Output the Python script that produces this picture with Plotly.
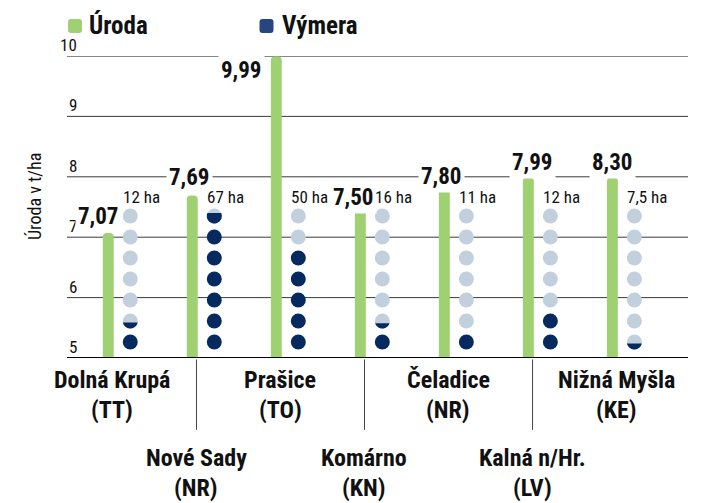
import math
import plotly.graph_objects as go

# ---------------- data ----------------
sites = ["Dolná Krupá", "Nové Sady", "Prašice", "Komárno", "Čeladice", "Kalná n/Hr.", "Nižná Myšla"]
districts = ["(TT)", "(NR)", "(TO)", "(KN)", "(NR)", "(LV)", "(KE)"]
uroda_labels = ["7,07", "7,69", "9,99", "7,50", "7,80", "7,99", "8,30"]
bar_heights = [7.07, 7.69, 9.99, 7.50, 7.80, 7.99, 7.99]   # bar tops as drawn in the picture
vymera_labels = ["12 ha", "67 ha", "50 ha", "16 ha", "11 ha", "12 ha", "7,5 ha"]
dots_filled = [1.4, 6.7, 5.0, 1.35, 1.0, 2.0, 0.4]
dots_total = 7
y_ticks = [5, 6, 7, 8, 9, 10]
y_tick_labels = ["5", "6", "7", "8", "9", "10"]

# ---------------- style ----------------
FONT = "Liberation Sans Narrow, Roboto Condensed, DejaVu Sans Condensed, Arial Narrow, sans-serif"
GREEN = "#9fd072"
NAVY = "#062a60"
NAVY_LEG = "#27467f"
LIGHT = "#c2d0dd"
DOT_OFF = 0.262
DOT_R = 7.5
PW, PH = 621, 302          # plot area size (px)
PL, PB = 67, 358           # plot left / bottom in the reference picture (px)

# per-label nudges (px) for the value labels
val_dx = [-10, -3, -35, -7, -3, 4, 0]
val_dy = [16, 18, -14, 10, 12, 15, 15]

n = len(sites)
xs = list(range(n))

fig = go.Figure()
fig.add_trace(go.Bar(
    x=xs, y=bar_heights, width=0.13,
    marker=dict(color=GREEN, cornerradius=4, line=dict(width=0)),
    hoverinfo="skip", showlegend=False))

dark_x, dark_y, light_x, light_y = [], [], [], []
shapes = []
for i, f in enumerate(dots_filled):
    full = int(math.floor(f + 1e-9))
    frac = f - full
    for r in range(dots_total):
        if r < full:
            dark_x.append(i + DOT_OFF); dark_y.append(r)
        else:
            light_x.append(i + DOT_OFF); light_y.append(r)
            if r == full and frac > 0.01:
                yc = -DOT_R + 2 * DOT_R * frac
                a = math.asin(max(-1, min(1, yc / DOT_R)))
                t0, t1 = math.pi - a, 2 * math.pi + a
                pts = []
                for k in range(29):
                    t = t0 + (t1 - t0) * k / 28
                    pts.append((DOT_R * math.cos(t), DOT_R * math.sin(t)))
                path = "M " + " L ".join(f"{px:.2f},{py:.2f}" for px, py in pts) + " Z"
                shapes.append(dict(type="path", path=path, xref="x", yref="y2",
                                   xsizemode="pixel", ysizemode="pixel",
                                   xanchor=i + DOT_OFF, yanchor=r,
                                   fillcolor=NAVY, line=dict(width=0), layer="above"))

fig.add_trace(go.Scatter(x=light_x, y=light_y, yaxis="y2", mode="markers",
                         marker=dict(size=15, color=LIGHT, line=dict(width=0)),
                         hoverinfo="skip", showlegend=False))
fig.add_trace(go.Scatter(x=dark_x, y=dark_y, yaxis="y2", mode="markers",
                         marker=dict(size=15, color=NAVY, line=dict(width=0)),
                         hoverinfo="skip", showlegend=False))

# grid lines
for v in y_ticks:
    if v == 5:
        continue
    shapes.append(dict(type="line", xref="paper", yref="y", x0=0, x1=1, y0=v, y1=v,
                       line=dict(color="#111" if v == 10 else "#3a3a3a", width=1.2 if v == 10 else 1),
                       layer="below"))
shapes.append(dict(type="line", xref="paper", yref="y", x0=0, x1=1, y0=5, y1=5,
                   line=dict(color="#000", width=2), layer="above"))

# separators under the lower label row
for i in range(1, n, 2):
    shapes.append(dict(type="line", xref="x", yref="paper", x0=i + 0.05, x1=i + 0.05,
                       y0=-0.005, y1=-0.238, line=dict(color="#444", width=1)))

# legend squares
def rrect(w, h, rad):
    x0, y0, x1, y1 = -w / 2, -h / 2, w / 2, h / 2
    return (f"M {x0+rad},{y0} L {x1-rad},{y0} Q {x1},{y0} {x1},{y0+rad} L {x1},{y1-rad} "
            f"Q {x1},{y1} {x1-rad},{y1} L {x0+rad},{y1} Q {x0},{y1} {x0},{y1-rad} "
            f"L {x0},{y0+rad} Q {x0},{y0} {x0+rad},{y0} Z")

for px_c, col in [(75, GREEN), (266.5, NAVY_LEG)]:
    shapes.append(dict(type="path", path=rrect(14, 14, 3), xref="paper", yref="paper",
                       xsizemode="pixel", ysizemode="pixel",
                       xanchor=(px_c - PL) / PW, yanchor=(PB - 26) / PH,
                       fillcolor=col, line=dict(width=0)))

ann = []
ann.append(dict(text="<b>Úroda</b>", xref="paper", yref="paper", x=(87 - PL) / PW, y=(PB - 25) / PH,
                xanchor="left", yanchor="middle", showarrow=False,
                font=dict(family=FONT, size=25, color="#111")))
ann.append(dict(text="<b>Výmera</b>", xref="paper", yref="paper", x=(280 - PL) / PW, y=(PB - 25) / PH,
                xanchor="left", yanchor="middle", showarrow=False,
                font=dict(family=FONT, size=25, color="#111")))

# y tick labels
for v, t in zip(y_ticks, y_tick_labels):
    ann.append(dict(text=t, xref="paper", yref="y", x=(79 - PL) / PW, y=v,
                    xanchor="right", yanchor="bottom", yshift=-1, showarrow=False,
                    font=dict(family=FONT, size=17, color="#111")))

# y title
ann.append(dict(text="Úroda v t/ha", xref="paper", yref="paper", x=(34 - PL) / PW, y=(PB - 197) / PH,
                xanchor="center", yanchor="middle", textangle=-90, showarrow=False,
                font=dict(family=FONT, size=18, color="#111")))

# value labels
for i in range(n):
    ann.append(dict(text=f"<b>{uroda_labels[i]}</b>", xref="x", yref="y", x=i, y=bar_heights[i],
                    xanchor="center", yanchor="middle", xshift=val_dx[i], yshift=val_dy[i],
                    showarrow=False, bgcolor="white", borderpad=2,
                    font=dict(family=FONT, size=23, color="#111")))

# area labels
for i in range(n):
    ann.append(dict(text=vymera_labels[i], xref="x", yref="y2", x=i + DOT_OFF, y=dots_total - 1,
                    xanchor="left", yanchor="middle", xshift=-9, yshift=19, showarrow=False,
                    font=dict(family=FONT, size=17, color="#111")))

# category labels
for i in range(n):
    top = -22 if i % 2 == 0 else -100
    ann.append(dict(text=f"<b>{sites[i]}</b>", xref="x", yref="paper", x=i, y=0,
                    xanchor="center", yanchor="middle", xshift=4, yshift=top, showarrow=False,
                    font=dict(family=FONT, size=24, color="#111")))
    ann.append(dict(text=f"<b>{districts[i]}</b>", xref="x", yref="paper", x=i, y=0,
                    xanchor="center", yanchor="middle", xshift=4, yshift=top - 30, showarrow=False,
                    font=dict(family=FONT, size=24, color="#111")))

# the page adds an 8 px body margin, so the figure is shifted up-left by 8 px
FIG_W, FIG_H = 703 - 16, 503 - 8
fig.update_layout(
    width=FIG_W, height=FIG_H,
    margin=dict(l=PL - 8, r=FIG_W - (PL - 8) - PW, t=(PB - PH) - 8, b=FIG_H - (PB - 8)),
    paper_bgcolor="white", plot_bgcolor="white",
    showlegend=False,
    xaxis=dict(range=[-0.491, 6.90], showgrid=False, zeroline=False, showticklabels=False,
               ticks="", showline=False, fixedrange=True),
    yaxis=dict(range=[5, 10], showgrid=False, zeroline=False, showticklabels=False,
               ticks="", showline=False, fixedrange=True),
    yaxis2=dict(range=[-16 / 21, (PH - 16) / 21], overlaying="y", visible=False, fixedrange=True),
    shapes=shapes, annotations=ann,
    font=dict(family=FONT),
)

fig.write_html("out.html")
